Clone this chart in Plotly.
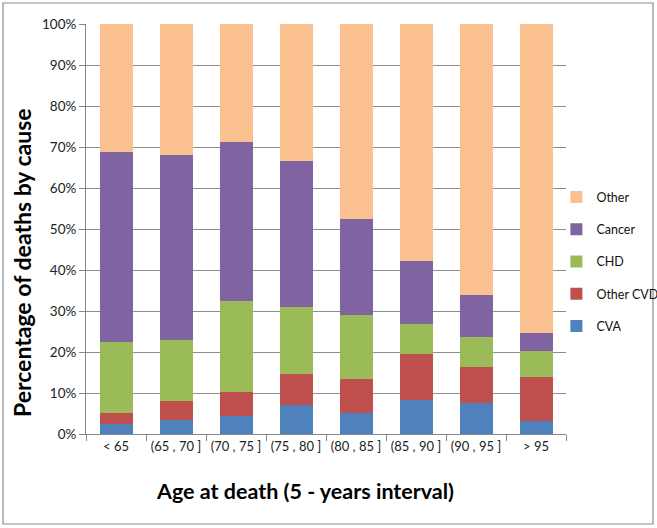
import plotly.graph_objects as go

ages = ["< 65", "(65 , 70 ]", "(70 , 75 ]", "(75 , 80 ]", "(80 , 85 ]", "(85 , 90 ]", "(90 , 95 ]", "> 95"]

cva = [2.5, 3.4, 4.5, 7.1, 5.2, 8.3, 7.5, 3.2]
other_cvd = [2.7, 4.6, 5.7, 7.6, 8.1, 11.2, 8.9, 10.7]
chd = [17.2, 14.9, 22.3, 16.3, 15.7, 7.3, 7.3, 6.3]
cancer = [46.3, 45.1, 38.8, 35.6, 23.4, 15.4, 10.2, 4.4]
other = [round(100 - a - b - c - d, 1) for a, b, c, d in zip(cva, other_cvd, chd, cancer)]

series = [
    ("CVA", cva, "#4F81BD"),
    ("Other CVD", other_cvd, "#C0504D"),
    ("CHD", chd, "#9BBB59"),
    ("Cancer", cancer, "#8064A2"),
    ("Other", other, "#FAC090"),
]

fig = go.Figure()
for i, (name, vals, col) in enumerate(series):
    fig.add_trace(go.Bar(x=ages, y=vals, name=name, marker_color=col,
                         marker_line_width=0, legendgroup=name,
                         legendrank=1000 - i))

fnt = "Lato, 'Open Sans', sans-serif"
fig.update_layout(
    barmode="stack",
    bargap=0.45,
    width=657, height=528,
    margin=dict(l=86, r=91, t=24, b=94, autoexpand=False),
    plot_bgcolor="white", paper_bgcolor="white",
    font=dict(family=fnt, size=13, color="#222"),
    legend=dict(x=0.98, y=0.42, xanchor="left", yanchor="middle",
                traceorder="grouped", tracegroupgap=13, itemwidth=30,
                bgcolor="rgba(0,0,0,0)",
                font=dict(size=12.5, color="#111")),
    xaxis=dict(showline=True, linecolor="#868686", ticks="outside", tickson="boundaries",
               ticklen=6, tickcolor="#868686", tickfont=dict(size=13), tickangle=0),
    yaxis=dict(range=[0, 100], dtick=10, ticksuffix="%", showgrid=True, gridcolor="#8c8c8c",
               showline=True, linecolor="#868686", ticks="outside", ticklen=6,
               tickcolor="#868686", tickfont=dict(size=13.5)),
)

# axis titles (placed as in the original, not centred on the axes)
fig.add_annotation(text="<b>Percentage of deaths by cause</b>", textangle=-90,
                   xref="paper", yref="paper", x=(22 - 86) / 480, y=(434 - 263) / 410,
                   xanchor="center", yanchor="middle",
                   showarrow=False, font=dict(size=23, color="#000"))
fig.add_annotation(text="<b>Age at death (5 - years interval)</b>",
                   xref="paper", yref="paper", x=(305 - 86) / 480, y=-(491 - 434) / 410,
                   xanchor="center", yanchor="middle",
                   showarrow=False, font=dict(size=21.5, color="#000"))

# chart area border
fig.add_shape(type="rect", xref="paper", yref="paper",
              x0=(3 - 86) / 480, x1=(653 - 86) / 480,
              y0=-(524 - 434) / 410, y1=(434 - 3) / 410,
              line=dict(color="#8c8c8c", width=1.2), layer="above")

fig.write_html("out.html", config={"displayModeBar": False},
               post_script="document.body.style.margin='0px';")
